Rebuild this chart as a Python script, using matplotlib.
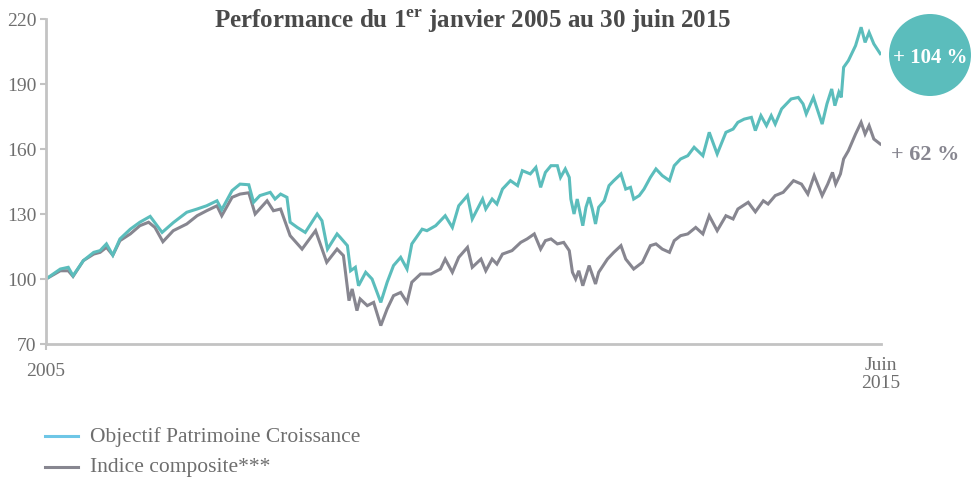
import matplotlib
matplotlib.use("Agg")
import matplotlib.pyplot as plt
from matplotlib.patches import Ellipse
from matplotlib.lines import Line2D

plt.rcParams['font.family'] = ['Liberation Serif', 'DejaVu Serif']
plt.rcParams['mathtext.fontset'] = 'custom'
plt.rcParams['mathtext.rm'] = 'Liberation Serif'
plt.rcParams['mathtext.bf'] = 'Liberation Serif:bold'

# fonds (decimal years, base 100)
fund_t = [2005.00, 2005.18, 2005.28, 2005.34, 2005.47, 2005.60, 2005.68, 2005.76, 2005.84, 2005.93,
          2006.06, 2006.18, 2006.31, 2006.46, 2006.60, 2006.77, 2006.90, 2007.02, 2007.15, 2007.21,
          2007.34, 2007.44, 2007.55, 2007.61, 2007.69, 2007.82, 2007.88, 2007.95, 2008.03, 2008.07,
          2008.16, 2008.26, 2008.41, 2008.47, 2008.54, 2008.66, 2008.70, 2008.79, 2008.83, 2008.89,
          2008.93, 2009.02, 2009.10, 2009.21, 2009.29, 2009.37, 2009.46, 2009.54, 2009.60, 2009.73,
          2009.79, 2009.90, 2009.96, 2010.02, 2010.11, 2010.19, 2010.30, 2010.36, 2010.49, 2010.53,
          2010.61, 2010.67, 2010.74, 2010.84, 2010.93, 2010.99, 2011.09, 2011.16, 2011.22, 2011.28,
          2011.35, 2011.43, 2011.47, 2011.53, 2011.58, 2011.60, 2011.64, 2011.68, 2011.75, 2011.79,
          2011.83, 2011.87, 2011.91, 2011.95, 2012.02, 2012.08, 2012.14, 2012.23, 2012.29, 2012.35,
          2012.39, 2012.46, 2012.52, 2012.60, 2012.67, 2012.75, 2012.84, 2012.90, 2012.98, 2013.07,
          2013.15, 2013.26, 2013.34, 2013.44, 2013.55, 2013.64, 2013.70, 2013.78, 2013.87, 2013.92,
          2013.99, 2014.06, 2014.12, 2014.17, 2014.25, 2014.37, 2014.46, 2014.52, 2014.56, 2014.65,
          2014.76, 2014.82, 2014.88, 2014.92, 2014.97, 2015.00, 2015.03, 2015.09, 2015.18, 2015.25,
          2015.30, 2015.35, 2015.41, 2015.49]
fund_v = [100.0, 104.6, 105.4, 101.5, 108.5, 112.3, 113.1, 116.2, 111.0, 118.5,
          123.0, 126.2, 128.9, 121.5, 126.0, 130.8, 132.3, 133.8, 136.1, 132.0,
          140.8, 143.8, 143.5, 135.4, 138.5, 140.0, 136.9, 139.2, 137.7, 126.2,
          123.8, 121.5, 130.0, 126.9, 113.8, 120.8, 119.2, 115.4, 103.8, 105.4,
          96.9, 103.1, 100.0, 89.2, 98.5, 106.2, 110.0, 104.6, 116.2, 123.0,
          122.3, 124.6, 126.9, 129.2, 123.8, 133.8, 138.5, 127.7, 136.9, 132.3,
          136.9, 134.6, 141.5, 145.4, 143.1, 150.0, 148.5, 151.5, 142.3, 149.2,
          152.3, 152.3, 146.9, 150.8, 146.9, 136.9, 130.0, 136.9, 124.6, 133.1,
          137.7, 132.3, 125.4, 133.1, 136.1, 143.1, 145.4, 148.5, 141.5, 142.3,
          136.9, 138.5, 141.5, 146.9, 150.8, 147.7, 145.4, 152.3, 155.4, 156.9,
          160.8, 156.9, 167.7, 157.7, 167.7, 169.2, 172.3, 173.8, 174.6, 168.5,
          175.4, 170.8, 175.4, 171.5, 178.5, 183.1, 183.8, 180.8, 176.2, 183.8,
          171.5, 180.8, 187.7, 180.0, 186.2, 183.8, 197.7, 200.8, 207.7, 216.2,
          209.2, 213.8, 208.5, 204.0]

# indice composite
index_t = [2005.00, 2005.18, 2005.28, 2005.34, 2005.47, 2005.60, 2005.68, 2005.76, 2005.84, 2005.93,
           2006.06, 2006.18, 2006.29, 2006.37, 2006.47, 2006.60, 2006.77, 2006.90, 2007.02, 2007.15,
           2007.21, 2007.34, 2007.44, 2007.55, 2007.63, 2007.78, 2007.86, 2007.95, 2008.07, 2008.22,
           2008.39, 2008.53, 2008.66, 2008.74, 2008.81, 2008.85, 2008.91, 2008.95, 2009.04, 2009.12,
           2009.21, 2009.29, 2009.37, 2009.46, 2009.54, 2009.60, 2009.71, 2009.84, 2009.96, 2010.02,
           2010.11, 2010.19, 2010.30, 2010.36, 2010.47, 2010.53, 2010.61, 2010.67, 2010.74, 2010.86,
           2010.97, 2011.05, 2011.14, 2011.22, 2011.28, 2011.35, 2011.43, 2011.51, 2011.58, 2011.62,
           2011.66, 2011.70, 2011.75, 2011.83, 2011.91, 2011.95, 2012.06, 2012.14, 2012.23, 2012.29,
           2012.39, 2012.50, 2012.60, 2012.67, 2012.75, 2012.84, 2012.90, 2012.98, 2013.07, 2013.17,
           2013.26, 2013.34, 2013.44, 2013.55, 2013.64, 2013.70, 2013.83, 2013.92, 2014.02, 2014.08,
           2014.17, 2014.27, 2014.40, 2014.50, 2014.58, 2014.66, 2014.76, 2014.83, 2014.89, 2014.93,
           2014.99, 2015.03, 2015.09, 2015.18, 2015.25, 2015.30, 2015.35, 2015.41, 2015.49]
index_v = [100.0, 103.8, 103.8, 101.2, 108.5, 111.5, 112.3, 114.6, 111.0, 117.7,
           120.8, 124.6, 126.2, 123.8, 117.2, 122.3, 125.4, 129.2, 131.5, 133.8,
           129.2, 137.7, 139.2, 139.8, 130.0, 136.1, 131.5, 132.3, 120.0, 113.8,
           122.3, 107.7, 113.8, 110.8, 90.0, 95.4, 85.4, 90.8, 87.7, 89.2,
           78.5, 86.2, 92.3, 93.8, 89.2, 98.5, 102.3, 102.3, 104.6, 109.2,
           103.1, 110.0, 114.6, 105.4, 109.2, 103.8, 109.2, 106.9, 111.5, 113.1,
           116.9, 118.5, 120.8, 113.8, 117.7, 118.5, 116.2, 116.9, 113.1, 103.1,
           100.0, 103.8, 96.9, 106.2, 97.7, 103.1, 109.2, 112.3, 115.4, 109.2,
           104.6, 107.7, 115.4, 116.2, 113.8, 112.3, 117.7, 120.0, 120.8, 123.8,
           120.8, 129.2, 122.3, 129.2, 127.7, 132.3, 135.4, 131.0, 136.1, 134.6,
           138.5, 140.0, 145.4, 143.8, 139.2, 147.7, 138.5, 143.8, 149.2, 143.8,
           148.5, 155.4, 159.2, 166.9, 172.3, 166.9, 170.8, 164.6, 162.3]

y_ticks = [70, 100, 130, 160, 190, 220]
labels = ["Objectif Patrimoine Croissance", "Indice composite***"]
perf = ["+ 104 %", "+ 62 %"]

teal = "#5bbdbc"
grey = "#878690"
axis_col = "#c3c3c3"
txt = "#6e6e6e"

fig = plt.figure(figsize=(9.79, 4.81), dpi=100)
ax = fig.add_axes([46 / 979, 1 - 345 / 481, 835 / 979, 325 / 481])

ax.plot(index_t, index_v, color=grey, lw=2.2, solid_joinstyle='miter')
ax.plot(fund_t, fund_v, color=teal, lw=2.2, solid_joinstyle='miter')

ax.set_xlim(2005, 2015.5)
ax.set_ylim(70, 220)
ax.set_yticks(y_ticks)
ax.set_yticklabels([str(v) for v in y_ticks], color=txt, fontsize=14)
ax.set_xticks([2005])
ax.set_xticklabels(["2005"], color=txt, fontsize=14)
ax.tick_params(axis='y', length=4, width=1.5, color=axis_col, pad=3)
ax.tick_params(axis='x', length=4, width=1.5, color=axis_col, pad=9)
for s in ['top', 'right']:
    ax.spines[s].set_visible(False)
for s in ['left', 'bottom']:
    ax.spines[s].set_color(axis_col)
    ax.spines[s].set_linewidth(2)

ax.text(2015.5, 64.5, "Juin\n2015", ha='center', va='top', color=txt, fontsize=14,
        linespacing=1.1, transform=ax.transData)

fig.text(0.483, 1 - 21 / 481, r"Performance du 1$^{\mathbf{er}}$ janvier 2005 au 30 juin 2015",
         ha='center', va='center', fontsize=18, fontweight='bold', color="#4a4a4a")

circ = Ellipse((930 / 979, 1 - 56 / 481), 82 / 979, 82 / 481, transform=fig.transFigure,
               facecolor=teal, edgecolor='none')
fig.add_artist(circ)
fig.text(930 / 979, 1 - 58 / 481, perf[0], ha='center', va='center', color='white',
         fontsize=15, fontweight='bold')
fig.text(891 / 979, 1 - 155 / 481, perf[1], ha='left', va='center', color=grey,
         fontsize=16, fontweight='bold')

# legend
leg_y = [437, 468]
leg_c = ["#6ec6e6", grey]
for yy, lab, c in zip(leg_y, labels, leg_c):
    fig.add_artist(Line2D([45 / 979, 78 / 979], [1 - yy / 481, 1 - yy / 481],
                          transform=fig.transFigure, color=c, lw=2.2))
    fig.text(90 / 979, 1 - yy / 481, lab, ha='left', va='center', color=txt, fontsize=15.5)

fig.savefig("out.png", dpi=100)
